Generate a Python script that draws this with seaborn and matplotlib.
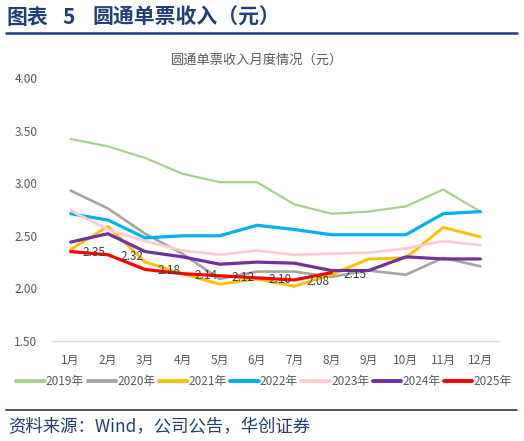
import numpy as np
import pandas as pd
import matplotlib
matplotlib.use('Agg')
import matplotlib.pyplot as plt
from matplotlib.lines import Line2D
import seaborn as sns

months = ['1月', '2月', '3月', '4月', '5月', '6月', '7月', '8月', '9月', '10月', '11月', '12月']
years = ['2019年', '2020年', '2021年', '2022年', '2023年', '2024年', '2025年']

y2019 = [3.42, 3.35, 3.24, 3.09, 3.01, 3.01, 2.80, 2.71, 2.73, 2.78, 2.94, 2.73]
y2020 = [2.93, 2.76, 2.52, 2.33, 2.09, 2.16, 2.16, 2.11, 2.17, 2.13, 2.29, 2.21]
y2021 = [2.37, 2.59, 2.25, 2.14, 2.04, 2.09, 2.02, 2.13, 2.28, 2.29, 2.58, 2.49]
y2022 = [2.71, 2.65, 2.48, 2.50, 2.50, 2.60, 2.56, 2.51, 2.51, 2.51, 2.71, 2.73]
y2023 = [2.74, 2.56, 2.45, 2.36, 2.32, 2.36, 2.32, 2.33, 2.34, 2.38, 2.45, 2.41]
y2024 = [2.44, 2.52, 2.35, 2.30, 2.23, 2.25, 2.24, 2.17, 2.17, 2.30, 2.28, 2.28]
y2025 = [2.35, 2.32, 2.18, 2.14, 2.12, 2.10, 2.08, 2.15]

series = [y2019, y2020, y2021, y2022, y2023, y2024, y2025]
colors = ['#A9D18E', '#A5A5A5', '#FFC000', '#00B0F0', '#FFCCCC', '#7030A0', '#FF0000']
widths = [1.6, 1.9, 2.1, 2.3, 2.0, 2.3, 2.3]

sns.set_style('white')
plt.rcParams['font.family'] = ['Noto Sans CJK SC', 'DejaVu Sans']

W, H = 524, 441
fig = plt.figure(figsize=(W / 100, H / 100), dpi=100)
ax = fig.add_axes([52 / W, 1 - 341 / H, 447 / W, 263 / H])

for name, vals, c, lw in zip(years, series, colors, widths):
    d = pd.DataFrame({'m': np.arange(len(vals)), 'v': vals})
    sns.lineplot(data=d, x='m', y='v', color=c, linewidth=lw, label=name, ax=ax)

# data labels for 2025
for i, v in enumerate(y2025):
    ax.annotate(f'{v:.2f}', (i, v), xytext=(17, -1), textcoords='offset points',
                ha='center', va='center', fontsize=8.5, color='#404040')

ax.set_xlim(-0.5, 11.5)
ax.set_ylim(1.5, 4.0)
ax.set_yticks([1.5, 2.0, 2.5, 3.0, 3.5, 4.0])
ax.set_yticklabels([f'{t:.2f}' for t in ax.get_yticks()])
ax.set_xticks(range(12))
ax.set_xticklabels(months)
ax.set_xlabel('')
ax.set_ylabel('')
ax.tick_params(axis='both', length=0, labelsize=8.5, colors='#595959')
ax.tick_params(axis='y', pad=10.5)
ax.tick_params(axis='x', pad=9)
for s in ['top', 'right', 'left']:
    ax.spines[s].set_visible(False)
ax.spines['bottom'].set_color('#D9D9D9')
ax.spines['bottom'].set_linewidth(1.0)

# legend centred at figure x=264, y=382
lx = (264 - 52) / 447
ly = (341 - 382) / 263
ax.legend(loc='center', bbox_to_anchor=(lx, ly), ncol=7, frameon=False, fontsize=8.5,
          handlelength=2.4, handletextpad=0.1, columnspacing=0.3, labelcolor='#595959')
for h in ax.get_legend().get_lines():
    h.set_linewidth(2.8)

navy = '#1F3F7A'
fig.text(6 / W, 1 - 17 / H, '图表', fontsize=15, fontweight='bold', color=navy, va='center', ha='left')
fig.text(62 / W, 1 - 17 / H, '5', fontsize=15, fontweight='bold', color=navy, va='center', ha='left')
fig.text(92 / W, 1 - 17 / H, '圆通单票收入（元）', fontsize=15, fontweight='bold', color=navy,
         va='center', ha='left')
fig.add_artist(Line2D([6 / W, 517 / W], [1 - 33 / H, 1 - 33 / H], color=navy, linewidth=1.8))
fig.text(257 / W, 1 - 60 / H, '圆通单票收入月度情况（元）', fontsize=9.5, color='#595959',
         va='center', ha='center')
fig.add_artist(Line2D([6 / W, 517 / W], [1 - 410 / H, 1 - 410 / H], color='#1F3864', linewidth=1.2))
fig.text(8 / W, 1 - 427 / H, '资料来源：Wind，公司公告，华创证券', fontsize=12.5, color=navy,
         va='center', ha='left')

fig.savefig('out.png', dpi=100)
